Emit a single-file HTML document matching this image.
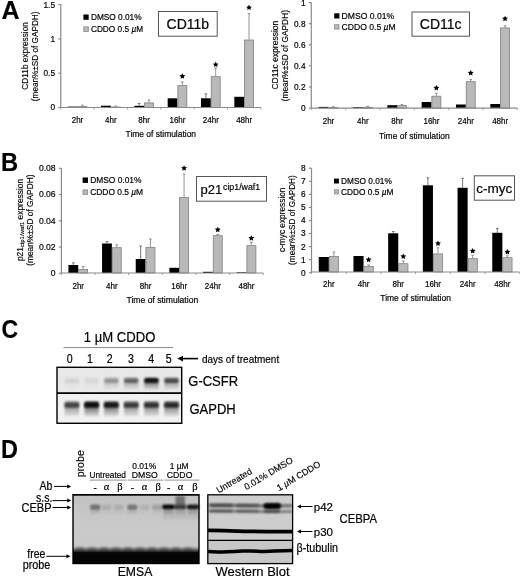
<!DOCTYPE html><html><head><meta charset="utf-8"><style>html,body{margin:0;padding:0;background:#fff;}svg{display:block;filter:grayscale(1);}</style></head><body>
<svg width="520" height="576" viewBox="0 0 520 576">
<defs>
<filter id="b1" filterUnits="userSpaceOnUse" x="0" y="0" width="520" height="576"><feGaussianBlur stdDeviation="1.2"/></filter>
<filter id="b2" filterUnits="userSpaceOnUse" x="0" y="0" width="520" height="576"><feGaussianBlur stdDeviation="0.8"/></filter>
<filter id="b4" filterUnits="userSpaceOnUse" x="0" y="0" width="520" height="576"><feGaussianBlur stdDeviation="0.5"/></filter>
<filter id="b3" filterUnits="userSpaceOnUse" x="0" y="0" width="520" height="576"><feGaussianBlur stdDeviation="1.8"/></filter>
<linearGradient id="freeg" x1="0" y1="0" x2="0" y2="1">
<stop offset="0" stop-color="#c8c8c8" stop-opacity="0"/><stop offset="0.45" stop-color="#8a8a8a"/><stop offset="0.75" stop-color="#3a3a3a"/><stop offset="1" stop-color="#060606"/></linearGradient>
<linearGradient id="smear" x1="0" y1="0" x2="0" y2="1">
<stop offset="0" stop-color="#000" stop-opacity="0.7"/><stop offset="0.5" stop-color="#000" stop-opacity="0.4"/><stop offset="1" stop-color="#000" stop-opacity="0.08"/></linearGradient>
<linearGradient id="emsabg" x1="0" y1="0" x2="0" y2="1">
<stop offset="0" stop-color="#c2c2c2"/><stop offset="0.5" stop-color="#cacaca"/><stop offset="0.75" stop-color="#c8c8c8"/><stop offset="1" stop-color="#c0c0c0"/></linearGradient>
</defs>
<rect width="520" height="576" fill="#fff"/>
<text transform="translate(1.5,19) scale(1,1)" font-size="25" text-anchor="start" font-weight="bold" fill="#000" stroke="#000" stroke-width="0.18" font-family='"Liberation Sans", sans-serif' >A</text>
<text transform="translate(1.1,171.3) scale(0.95,1)" font-size="25" text-anchor="start" font-weight="bold" fill="#000" stroke="#000" stroke-width="0.18" font-family='"Liberation Sans", sans-serif' >B</text>
<text transform="translate(1.4,338.4) scale(0.92,1.06)" font-size="25" text-anchor="start" font-weight="bold" fill="#000" stroke="#000" stroke-width="0.18" font-family='"Liberation Sans", sans-serif' >C</text>
<text transform="translate(0.9,458.4) scale(0.94,1.0)" font-size="25" text-anchor="start" font-weight="bold" fill="#000" stroke="#000" stroke-width="0.18" font-family='"Liberation Sans", sans-serif' >D</text>
<line x1="60.8" y1="4.6" x2="60.8" y2="107.5" stroke="#8a8a8a" stroke-width="1.2"/>
<line x1="58.3" y1="4.6" x2="60.8" y2="4.6" stroke="#8a8a8a" stroke-width="1.2"/>
<text transform="translate(55.0,7.5) scale(1,1.13)" font-size="8.3" text-anchor="end" font-weight="normal" fill="#000" stroke="#000" stroke-width="0.18" font-family='"Liberation Sans", sans-serif' >1.5</text>
<line x1="58.3" y1="38.9" x2="60.8" y2="38.9" stroke="#8a8a8a" stroke-width="1.2"/>
<text transform="translate(55.0,41.8) scale(1,1.13)" font-size="8.3" text-anchor="end" font-weight="normal" fill="#000" stroke="#000" stroke-width="0.18" font-family='"Liberation Sans", sans-serif' >1</text>
<line x1="58.3" y1="73.2" x2="60.8" y2="73.2" stroke="#8a8a8a" stroke-width="1.2"/>
<text transform="translate(55.0,76.10000000000001) scale(1,1.13)" font-size="8.3" text-anchor="end" font-weight="normal" fill="#000" stroke="#000" stroke-width="0.18" font-family='"Liberation Sans", sans-serif' >0.5</text>
<line x1="58.3" y1="107.5" x2="60.8" y2="107.5" stroke="#8a8a8a" stroke-width="1.2"/>
<text transform="translate(55.0,110.4) scale(1,1.13)" font-size="8.3" text-anchor="end" font-weight="normal" fill="#000" stroke="#000" stroke-width="0.18" font-family='"Liberation Sans", sans-serif' >0</text>
<rect x="67.66666666666667" y="106.6" width="9.8" height="0.9000000000000057" fill="#000"/>
<line x1="82.36666666666667" y1="105.2" x2="82.36666666666667" y2="106.2" stroke="#777" stroke-width="0.8"/>
<line x1="81.06666666666668" y1="105.2" x2="83.66666666666667" y2="105.2" stroke="#777" stroke-width="0.8"/>
<rect x="77.86666666666667" y="106.60000000000001" width="9.0" height="0.8999999999999971" fill="#b9b9b9" stroke="#808080" stroke-width="0.8"/>
<text transform="translate(77.46666666666667,122.7) scale(1,1.13)" font-size="8" text-anchor="middle" font-weight="normal" fill="#000" stroke="#000" stroke-width="0.18" font-family='"Liberation Sans", sans-serif' >2hr</text>
<rect x="101.0" y="105.7" width="9.8" height="1.7999999999999972" fill="#000"/>
<line x1="115.7" y1="106.0" x2="115.7" y2="106.6" stroke="#777" stroke-width="0.8"/>
<line x1="114.4" y1="106.0" x2="117.0" y2="106.0" stroke="#777" stroke-width="0.8"/>
<rect x="111.2" y="107.0" width="9.0" height="0.5000000000000057" fill="#b9b9b9" stroke="#808080" stroke-width="0.8"/>
<text transform="translate(110.8,122.7) scale(1,1.13)" font-size="8" text-anchor="middle" font-weight="normal" fill="#000" stroke="#000" stroke-width="0.18" font-family='"Liberation Sans", sans-serif' >4hr</text>
<line x1="139.23333333333332" y1="103.5" x2="139.23333333333332" y2="105.8" stroke="#555" stroke-width="0.8"/>
<line x1="137.9333333333333" y1="103.5" x2="140.53333333333333" y2="103.5" stroke="#555" stroke-width="0.8"/>
<rect x="134.33333333333331" y="105.8" width="9.8" height="1.7000000000000028" fill="#000"/>
<line x1="149.03333333333333" y1="100.0" x2="149.03333333333333" y2="102.5" stroke="#777" stroke-width="0.8"/>
<line x1="147.73333333333332" y1="100.0" x2="150.33333333333334" y2="100.0" stroke="#777" stroke-width="0.8"/>
<rect x="144.53333333333333" y="102.9" width="9.0" height="4.6" fill="#b9b9b9" stroke="#808080" stroke-width="0.8"/>
<text transform="translate(144.13333333333333,122.7) scale(1,1.13)" font-size="8" text-anchor="middle" font-weight="normal" fill="#000" stroke="#000" stroke-width="0.18" font-family='"Liberation Sans", sans-serif' >8hr</text>
<rect x="167.66666666666666" y="98.3" width="9.8" height="9.200000000000003" fill="#000"/>
<line x1="182.36666666666667" y1="82.0" x2="182.36666666666667" y2="85.0" stroke="#777" stroke-width="0.8"/>
<line x1="181.06666666666666" y1="82.0" x2="183.66666666666669" y2="82.0" stroke="#777" stroke-width="0.8"/>
<rect x="177.86666666666667" y="85.4" width="9.0" height="22.1" fill="#b9b9b9" stroke="#808080" stroke-width="0.8"/>
<polygon points="182.37,73.20 183.24,75.10 185.31,75.34 183.78,76.76 184.19,78.81 182.37,77.79 180.54,78.81 180.95,76.76 179.42,75.34 181.49,75.10" fill="#000"/>
<text transform="translate(177.46666666666667,122.7) scale(1,1.13)" font-size="8" text-anchor="middle" font-weight="normal" fill="#000" stroke="#000" stroke-width="0.18" font-family='"Liberation Sans", sans-serif' >16hr</text>
<line x1="205.9" y1="93.8" x2="205.9" y2="98.3" stroke="#555" stroke-width="0.8"/>
<line x1="204.6" y1="93.8" x2="207.20000000000002" y2="93.8" stroke="#555" stroke-width="0.8"/>
<rect x="201.0" y="98.3" width="9.8" height="9.200000000000003" fill="#000"/>
<line x1="215.70000000000002" y1="68.0" x2="215.70000000000002" y2="76.3" stroke="#777" stroke-width="0.8"/>
<line x1="214.4" y1="68.0" x2="217.00000000000003" y2="68.0" stroke="#777" stroke-width="0.8"/>
<rect x="211.20000000000002" y="76.7" width="9.0" height="30.800000000000004" fill="#b9b9b9" stroke="#808080" stroke-width="0.8"/>
<polygon points="215.70,61.50 216.57,63.40 218.65,63.64 217.12,65.06 217.52,67.11 215.70,66.09 213.88,67.11 214.28,65.06 212.75,63.64 214.83,63.40" fill="#000"/>
<text transform="translate(210.8,122.7) scale(1,1.13)" font-size="8" text-anchor="middle" font-weight="normal" fill="#000" stroke="#000" stroke-width="0.18" font-family='"Liberation Sans", sans-serif' >24hr</text>
<rect x="234.33333333333331" y="96.8" width="9.8" height="10.700000000000003" fill="#000"/>
<line x1="249.03333333333333" y1="13.7" x2="249.03333333333333" y2="39.6" stroke="#777" stroke-width="0.8"/>
<line x1="247.73333333333332" y1="13.7" x2="250.33333333333334" y2="13.7" stroke="#777" stroke-width="0.8"/>
<rect x="244.53333333333333" y="40.0" width="9.0" height="67.5" fill="#b9b9b9" stroke="#808080" stroke-width="0.8"/>
<polygon points="249.03,4.50 249.91,6.40 251.98,6.64 250.45,8.06 250.86,10.11 249.03,9.09 247.21,10.11 247.62,8.06 246.09,6.64 248.16,6.40" fill="#000"/>
<text transform="translate(244.13333333333333,122.7) scale(1,1.13)" font-size="8" text-anchor="middle" font-weight="normal" fill="#000" stroke="#000" stroke-width="0.18" font-family='"Liberation Sans", sans-serif' >48hr</text>
<line x1="60.8" y1="107.5" x2="260.8" y2="107.5" stroke="#8a8a8a" stroke-width="1.2"/>
<line x1="60.8" y1="107.5" x2="60.8" y2="109.5" stroke="#8a8a8a" stroke-width="0.8"/>
<line x1="94.13333333333333" y1="107.5" x2="94.13333333333333" y2="109.5" stroke="#8a8a8a" stroke-width="0.8"/>
<line x1="127.46666666666667" y1="107.5" x2="127.46666666666667" y2="109.5" stroke="#8a8a8a" stroke-width="0.8"/>
<line x1="160.8" y1="107.5" x2="160.8" y2="109.5" stroke="#8a8a8a" stroke-width="0.8"/>
<line x1="194.13333333333333" y1="107.5" x2="194.13333333333333" y2="109.5" stroke="#8a8a8a" stroke-width="0.8"/>
<line x1="227.4666666666667" y1="107.5" x2="227.4666666666667" y2="109.5" stroke="#8a8a8a" stroke-width="0.8"/>
<line x1="260.8" y1="107.5" x2="260.8" y2="109.5" stroke="#8a8a8a" stroke-width="0.8"/>
<text transform="translate(160.8,136.5) scale(1,1.13)" font-size="8.45" text-anchor="middle" font-weight="normal" fill="#000" stroke="#000" stroke-width="0.18" font-family='"Liberation Sans", sans-serif' >Time of stimulation</text>
<text transform="translate(28.0,55.9) rotate(-90)" font-size="8.3" text-anchor="middle" stroke="#000" stroke-width="0.15" font-family='"Liberation Sans", sans-serif'>CD11b expression</text>
<text transform="translate(37.8,56.35) rotate(-90)" font-size="8.2" text-anchor="middle" stroke="#000" stroke-width="0.15" font-family='"Liberation Sans", sans-serif'>(mean%±SD of GAPDH)</text>
<rect x="83.4" y="14.5" width="5.3" height="5.3" fill="#000"/>
<rect x="83.80000000000001" y="26.9" width="4.5" height="4.5" fill="#b9b9b9" stroke="#888" stroke-width="0.8"/>
<text transform="translate(90.9,20.049999999999997) scale(1,1.13)" font-size="8.3" text-anchor="start" font-weight="normal" fill="#000" stroke="#000" stroke-width="0.18" font-family='"Liberation Sans", sans-serif' >DMSO 0.01%</text>
<text transform="translate(90.9,32.05) scale(1,1.13)" font-size="8.3" text-anchor="start" font-weight="normal" fill="#000" stroke="#000" stroke-width="0.18" font-family='"Liberation Sans", sans-serif' >CDDO 0.5 <tspan font-style="italic">µ</tspan>M</text>
<rect x="158.5" y="11.5" width="58.7" height="24.7" fill="#fff" stroke="#555" stroke-width="1"/>
<text transform="translate(187.8,28.8) scale(1,1)" font-size="14" text-anchor="middle" font-weight="normal" fill="#000" stroke="#000" stroke-width="0.18" font-family='"Liberation Sans", sans-serif' >CD11b</text>
<line x1="311.3" y1="2.6" x2="311.3" y2="108.1" stroke="#8a8a8a" stroke-width="1.2"/>
<line x1="308.8" y1="2.6" x2="311.3" y2="2.6" stroke="#8a8a8a" stroke-width="1.2"/>
<text transform="translate(305.5,5.5) scale(1,1.13)" font-size="8.3" text-anchor="end" font-weight="normal" fill="#000" stroke="#000" stroke-width="0.18" font-family='"Liberation Sans", sans-serif' >1</text>
<line x1="308.8" y1="23.7" x2="311.3" y2="23.7" stroke="#8a8a8a" stroke-width="1.2"/>
<text transform="translate(305.5,26.599999999999998) scale(1,1.13)" font-size="8.3" text-anchor="end" font-weight="normal" fill="#000" stroke="#000" stroke-width="0.18" font-family='"Liberation Sans", sans-serif' >0.8</text>
<line x1="308.8" y1="44.8" x2="311.3" y2="44.8" stroke="#8a8a8a" stroke-width="1.2"/>
<text transform="translate(305.5,47.699999999999996) scale(1,1.13)" font-size="8.3" text-anchor="end" font-weight="normal" fill="#000" stroke="#000" stroke-width="0.18" font-family='"Liberation Sans", sans-serif' >0.6</text>
<line x1="308.8" y1="65.9" x2="311.3" y2="65.9" stroke="#8a8a8a" stroke-width="1.2"/>
<text transform="translate(305.5,68.80000000000001) scale(1,1.13)" font-size="8.3" text-anchor="end" font-weight="normal" fill="#000" stroke="#000" stroke-width="0.18" font-family='"Liberation Sans", sans-serif' >0.4</text>
<line x1="308.8" y1="87.0" x2="311.3" y2="87.0" stroke="#8a8a8a" stroke-width="1.2"/>
<text transform="translate(305.5,89.9) scale(1,1.13)" font-size="8.3" text-anchor="end" font-weight="normal" fill="#000" stroke="#000" stroke-width="0.18" font-family='"Liberation Sans", sans-serif' >0.2</text>
<line x1="308.8" y1="108.1" x2="311.3" y2="108.1" stroke="#8a8a8a" stroke-width="1.2"/>
<text transform="translate(305.5,111.0) scale(1,1.13)" font-size="8.3" text-anchor="end" font-weight="normal" fill="#000" stroke="#000" stroke-width="0.18" font-family='"Liberation Sans", sans-serif' >0</text>
<rect x="318.6666666666667" y="106.9" width="9.8" height="1.1999999999999886" fill="#000"/>
<line x1="333.3666666666667" y1="106.7" x2="333.3666666666667" y2="107.2" stroke="#777" stroke-width="0.8"/>
<line x1="332.06666666666666" y1="106.7" x2="334.6666666666667" y2="106.7" stroke="#777" stroke-width="0.8"/>
<rect x="328.8666666666667" y="107.60000000000001" width="9.0" height="0.49999999999999145" fill="#b9b9b9" stroke="#808080" stroke-width="0.8"/>
<text transform="translate(328.4666666666667,124.4) scale(1,1.13)" font-size="8" text-anchor="middle" font-weight="normal" fill="#000" stroke="#000" stroke-width="0.18" font-family='"Liberation Sans", sans-serif' >2hr</text>
<rect x="353.0" y="107.2" width="9.8" height="0.8999999999999915" fill="#000"/>
<line x1="367.7" y1="106.3" x2="367.7" y2="106.9" stroke="#777" stroke-width="0.8"/>
<line x1="366.4" y1="106.3" x2="369.0" y2="106.3" stroke="#777" stroke-width="0.8"/>
<rect x="363.2" y="107.30000000000001" width="9.0" height="0.7999999999999886" fill="#b9b9b9" stroke="#808080" stroke-width="0.8"/>
<text transform="translate(362.8,124.4) scale(1,1.13)" font-size="8" text-anchor="middle" font-weight="normal" fill="#000" stroke="#000" stroke-width="0.18" font-family='"Liberation Sans", sans-serif' >4hr</text>
<rect x="387.3333333333333" y="105.2" width="9.8" height="2.8999999999999915" fill="#000"/>
<line x1="402.0333333333333" y1="104.6" x2="402.0333333333333" y2="105.2" stroke="#777" stroke-width="0.8"/>
<line x1="400.7333333333333" y1="104.6" x2="403.3333333333333" y2="104.6" stroke="#777" stroke-width="0.8"/>
<rect x="397.5333333333333" y="105.60000000000001" width="9.0" height="2.4999999999999916" fill="#b9b9b9" stroke="#808080" stroke-width="0.8"/>
<text transform="translate(397.1333333333333,124.4) scale(1,1.13)" font-size="8" text-anchor="middle" font-weight="normal" fill="#000" stroke="#000" stroke-width="0.18" font-family='"Liberation Sans", sans-serif' >8hr</text>
<rect x="421.66666666666663" y="102.0" width="9.8" height="6.099999999999994" fill="#000"/>
<line x1="436.3666666666666" y1="93.3" x2="436.3666666666666" y2="95.8" stroke="#777" stroke-width="0.8"/>
<line x1="435.0666666666666" y1="93.3" x2="437.66666666666663" y2="93.3" stroke="#777" stroke-width="0.8"/>
<rect x="431.8666666666666" y="96.2" width="9.0" height="11.899999999999997" fill="#b9b9b9" stroke="#808080" stroke-width="0.8"/>
<polygon points="436.37,84.90 437.24,86.80 439.31,87.04 437.78,88.46 438.19,90.51 436.37,89.49 434.54,90.51 434.95,88.46 433.42,87.04 435.49,86.80" fill="#000"/>
<text transform="translate(431.46666666666664,124.4) scale(1,1.13)" font-size="8" text-anchor="middle" font-weight="normal" fill="#000" stroke="#000" stroke-width="0.18" font-family='"Liberation Sans", sans-serif' >16hr</text>
<rect x="455.99999999999994" y="104.5" width="9.8" height="3.5999999999999943" fill="#000"/>
<line x1="470.69999999999993" y1="79.5" x2="470.69999999999993" y2="81.3" stroke="#777" stroke-width="0.8"/>
<line x1="469.3999999999999" y1="79.5" x2="471.99999999999994" y2="79.5" stroke="#777" stroke-width="0.8"/>
<rect x="466.19999999999993" y="81.7" width="9.0" height="26.4" fill="#b9b9b9" stroke="#808080" stroke-width="0.8"/>
<polygon points="470.70,69.90 471.57,71.80 473.65,72.04 472.12,73.46 472.52,75.51 470.70,74.49 468.88,75.51 469.28,73.46 467.75,72.04 469.83,71.80" fill="#000"/>
<text transform="translate(465.79999999999995,124.4) scale(1,1.13)" font-size="8" text-anchor="middle" font-weight="normal" fill="#000" stroke="#000" stroke-width="0.18" font-family='"Liberation Sans", sans-serif' >24hr</text>
<rect x="490.33333333333326" y="104.0" width="9.8" height="4.099999999999994" fill="#000"/>
<line x1="505.03333333333325" y1="25.8" x2="505.03333333333325" y2="27.5" stroke="#777" stroke-width="0.8"/>
<line x1="503.73333333333323" y1="25.8" x2="506.33333333333326" y2="25.8" stroke="#777" stroke-width="0.8"/>
<rect x="500.53333333333325" y="27.9" width="9.0" height="80.19999999999999" fill="#b9b9b9" stroke="#808080" stroke-width="0.8"/>
<polygon points="505.03,15.70 505.91,17.60 507.98,17.84 506.45,19.26 506.86,21.31 505.03,20.29 503.21,21.31 503.62,19.26 502.09,17.84 504.16,17.60" fill="#000"/>
<text transform="translate(500.13333333333327,124.4) scale(1,1.13)" font-size="8" text-anchor="middle" font-weight="normal" fill="#000" stroke="#000" stroke-width="0.18" font-family='"Liberation Sans", sans-serif' >48hr</text>
<line x1="311.3" y1="108.1" x2="517.3" y2="108.1" stroke="#8a8a8a" stroke-width="1.2"/>
<line x1="311.3" y1="108.1" x2="311.3" y2="110.1" stroke="#8a8a8a" stroke-width="0.8"/>
<line x1="345.6333333333333" y1="108.1" x2="345.6333333333333" y2="110.1" stroke="#8a8a8a" stroke-width="0.8"/>
<line x1="379.96666666666664" y1="108.1" x2="379.96666666666664" y2="110.1" stroke="#8a8a8a" stroke-width="0.8"/>
<line x1="414.29999999999995" y1="108.1" x2="414.29999999999995" y2="110.1" stroke="#8a8a8a" stroke-width="0.8"/>
<line x1="448.6333333333333" y1="108.1" x2="448.6333333333333" y2="110.1" stroke="#8a8a8a" stroke-width="0.8"/>
<line x1="482.9666666666666" y1="108.1" x2="482.9666666666666" y2="110.1" stroke="#8a8a8a" stroke-width="0.8"/>
<line x1="517.3" y1="108.1" x2="517.3" y2="110.1" stroke="#8a8a8a" stroke-width="0.8"/>
<text transform="translate(414.29999999999995,138.6) scale(1,1.13)" font-size="8.5" text-anchor="middle" font-weight="normal" fill="#000" stroke="#000" stroke-width="0.18" font-family='"Liberation Sans", sans-serif' >Time of stimulation</text>
<text transform="translate(277.6,55.15) rotate(-90)" font-size="8.5" text-anchor="middle" stroke="#000" stroke-width="0.15" font-family='"Liberation Sans", sans-serif'>CD11c expression</text>
<text transform="translate(287.8,55.7) rotate(-90)" font-size="8.35" text-anchor="middle" stroke="#000" stroke-width="0.15" font-family='"Liberation Sans", sans-serif'>(mean%±SD of GAPDH)</text>
<rect x="334.2" y="13.3" width="5.2" height="5.2" fill="#000"/>
<rect x="334.59999999999997" y="24.7" width="4.4" height="4.4" fill="#b9b9b9" stroke="#888" stroke-width="0.8"/>
<text transform="translate(341.59999999999997,18.8) scale(1,1.13)" font-size="8.6" text-anchor="start" font-weight="normal" fill="#000" stroke="#000" stroke-width="0.18" font-family='"Liberation Sans", sans-serif' >DMSO 0.01%</text>
<text transform="translate(341.59999999999997,29.8) scale(1,1.13)" font-size="8.6" text-anchor="start" font-weight="normal" fill="#000" stroke="#000" stroke-width="0.18" font-family='"Liberation Sans", sans-serif' >CDDO 0.5 <tspan font-style="italic">µ</tspan>M</text>
<rect x="412" y="12" width="57.5" height="24.2" fill="#fff" stroke="#555" stroke-width="1"/>
<text transform="translate(440.7,29) scale(1,1)" font-size="14" text-anchor="middle" font-weight="normal" fill="#000" stroke="#000" stroke-width="0.18" font-family='"Liberation Sans", sans-serif' >CD11c</text>
<line x1="61.4" y1="168.3" x2="61.4" y2="273.0" stroke="#8a8a8a" stroke-width="1.2"/>
<line x1="58.9" y1="168.3" x2="61.4" y2="168.3" stroke="#8a8a8a" stroke-width="1.2"/>
<text transform="translate(55.6,171.20000000000002) scale(1,1.13)" font-size="8.6" text-anchor="end" font-weight="normal" fill="#000" stroke="#000" stroke-width="0.18" font-family='"Liberation Sans", sans-serif' >0.08</text>
<line x1="58.9" y1="194.5" x2="61.4" y2="194.5" stroke="#8a8a8a" stroke-width="1.2"/>
<text transform="translate(55.6,197.4) scale(1,1.13)" font-size="8.6" text-anchor="end" font-weight="normal" fill="#000" stroke="#000" stroke-width="0.18" font-family='"Liberation Sans", sans-serif' >0.06</text>
<line x1="58.9" y1="220.8" x2="61.4" y2="220.8" stroke="#8a8a8a" stroke-width="1.2"/>
<text transform="translate(55.6,223.70000000000002) scale(1,1.13)" font-size="8.6" text-anchor="end" font-weight="normal" fill="#000" stroke="#000" stroke-width="0.18" font-family='"Liberation Sans", sans-serif' >0.04</text>
<line x1="58.9" y1="247.0" x2="61.4" y2="247.0" stroke="#8a8a8a" stroke-width="1.2"/>
<text transform="translate(55.6,249.9) scale(1,1.13)" font-size="8.6" text-anchor="end" font-weight="normal" fill="#000" stroke="#000" stroke-width="0.18" font-family='"Liberation Sans", sans-serif' >0.02</text>
<line x1="58.9" y1="273.3" x2="61.4" y2="273.3" stroke="#8a8a8a" stroke-width="1.2"/>
<text transform="translate(55.6,276.2) scale(1,1.13)" font-size="8.6" text-anchor="end" font-weight="normal" fill="#000" stroke="#000" stroke-width="0.18" font-family='"Liberation Sans", sans-serif' >0</text>
<line x1="73.32499999999999" y1="262.8" x2="73.32499999999999" y2="265.0" stroke="#555" stroke-width="0.8"/>
<line x1="72.02499999999999" y1="262.8" x2="74.62499999999999" y2="262.8" stroke="#555" stroke-width="0.8"/>
<rect x="68.425" y="265.0" width="9.8" height="8.0" fill="#000"/>
<line x1="83.125" y1="266.5" x2="83.125" y2="269.0" stroke="#777" stroke-width="0.8"/>
<line x1="81.825" y1="266.5" x2="84.425" y2="266.5" stroke="#777" stroke-width="0.8"/>
<rect x="78.625" y="269.4" width="9.0" height="3.6" fill="#b9b9b9" stroke="#808080" stroke-width="0.8"/>
<text transform="translate(78.225,288.6) scale(1,1.13)" font-size="8" text-anchor="middle" font-weight="normal" fill="#000" stroke="#000" stroke-width="0.18" font-family='"Liberation Sans", sans-serif' >2hr</text>
<line x1="106.975" y1="241.5" x2="106.975" y2="243.5" stroke="#555" stroke-width="0.8"/>
<line x1="105.675" y1="241.5" x2="108.27499999999999" y2="241.5" stroke="#555" stroke-width="0.8"/>
<rect x="102.075" y="243.5" width="9.8" height="29.5" fill="#000"/>
<line x1="116.775" y1="244.8" x2="116.775" y2="247.3" stroke="#777" stroke-width="0.8"/>
<line x1="115.47500000000001" y1="244.8" x2="118.075" y2="244.8" stroke="#777" stroke-width="0.8"/>
<rect x="112.275" y="247.70000000000002" width="9.0" height="25.29999999999999" fill="#b9b9b9" stroke="#808080" stroke-width="0.8"/>
<text transform="translate(111.875,288.6) scale(1,1.13)" font-size="8" text-anchor="middle" font-weight="normal" fill="#000" stroke="#000" stroke-width="0.18" font-family='"Liberation Sans", sans-serif' >4hr</text>
<line x1="140.625" y1="246.0" x2="140.625" y2="259.0" stroke="#555" stroke-width="0.8"/>
<line x1="139.325" y1="246.0" x2="141.925" y2="246.0" stroke="#555" stroke-width="0.8"/>
<rect x="135.725" y="259.0" width="9.8" height="14.0" fill="#000"/>
<line x1="150.425" y1="239.0" x2="150.425" y2="247.0" stroke="#777" stroke-width="0.8"/>
<line x1="149.125" y1="239.0" x2="151.72500000000002" y2="239.0" stroke="#777" stroke-width="0.8"/>
<rect x="145.925" y="247.4" width="9.0" height="25.6" fill="#b9b9b9" stroke="#808080" stroke-width="0.8"/>
<text transform="translate(145.525,288.6) scale(1,1.13)" font-size="8" text-anchor="middle" font-weight="normal" fill="#000" stroke="#000" stroke-width="0.18" font-family='"Liberation Sans", sans-serif' >8hr</text>
<rect x="169.37499999999997" y="267.8" width="9.8" height="5.199999999999989" fill="#000"/>
<line x1="184.075" y1="174.0" x2="184.075" y2="197.0" stroke="#777" stroke-width="0.8"/>
<line x1="182.77499999999998" y1="174.0" x2="185.375" y2="174.0" stroke="#777" stroke-width="0.8"/>
<rect x="179.575" y="197.4" width="9.0" height="75.6" fill="#b9b9b9" stroke="#808080" stroke-width="0.8"/>
<polygon points="184.07,165.20 184.95,167.10 187.02,167.34 185.49,168.76 185.90,170.81 184.07,169.79 182.25,170.81 182.66,168.76 181.13,167.34 183.20,167.10" fill="#000"/>
<text transform="translate(179.17499999999998,288.6) scale(1,1.13)" font-size="8" text-anchor="middle" font-weight="normal" fill="#000" stroke="#000" stroke-width="0.18" font-family='"Liberation Sans", sans-serif' >16hr</text>
<rect x="203.02499999999998" y="271.8" width="9.8" height="1.1999999999999886" fill="#000"/>
<line x1="217.725" y1="234.5" x2="217.725" y2="235.3" stroke="#777" stroke-width="0.8"/>
<line x1="216.42499999999998" y1="234.5" x2="219.025" y2="234.5" stroke="#777" stroke-width="0.8"/>
<rect x="213.225" y="235.70000000000002" width="9.0" height="37.29999999999999" fill="#b9b9b9" stroke="#808080" stroke-width="0.8"/>
<polygon points="217.72,226.70 218.60,228.60 220.67,228.84 219.14,230.26 219.55,232.31 217.72,231.29 215.90,232.31 216.31,230.26 214.78,228.84 216.85,228.60" fill="#000"/>
<text transform="translate(212.825,288.6) scale(1,1.13)" font-size="8" text-anchor="middle" font-weight="normal" fill="#000" stroke="#000" stroke-width="0.18" font-family='"Liberation Sans", sans-serif' >24hr</text>
<rect x="236.67499999999998" y="272.3" width="9.8" height="0.6999999999999886" fill="#000"/>
<line x1="251.375" y1="242.3" x2="251.375" y2="245.3" stroke="#777" stroke-width="0.8"/>
<line x1="250.075" y1="242.3" x2="252.675" y2="242.3" stroke="#777" stroke-width="0.8"/>
<rect x="246.875" y="245.70000000000002" width="9.0" height="27.29999999999999" fill="#b9b9b9" stroke="#808080" stroke-width="0.8"/>
<polygon points="251.38,235.20 252.25,237.10 254.32,237.34 252.79,238.76 253.20,240.81 251.38,239.79 249.55,240.81 249.96,238.76 248.43,237.34 250.50,237.10" fill="#000"/>
<text transform="translate(246.475,288.6) scale(1,1.13)" font-size="8" text-anchor="middle" font-weight="normal" fill="#000" stroke="#000" stroke-width="0.18" font-family='"Liberation Sans", sans-serif' >48hr</text>
<line x1="61.4" y1="273.0" x2="263.3" y2="273.0" stroke="#8a8a8a" stroke-width="1.2"/>
<line x1="61.4" y1="273.0" x2="61.4" y2="275.0" stroke="#8a8a8a" stroke-width="0.8"/>
<line x1="95.05" y1="273.0" x2="95.05" y2="275.0" stroke="#8a8a8a" stroke-width="0.8"/>
<line x1="128.7" y1="273.0" x2="128.7" y2="275.0" stroke="#8a8a8a" stroke-width="0.8"/>
<line x1="162.35" y1="273.0" x2="162.35" y2="275.0" stroke="#8a8a8a" stroke-width="0.8"/>
<line x1="196.0" y1="273.0" x2="196.0" y2="275.0" stroke="#8a8a8a" stroke-width="0.8"/>
<line x1="229.65" y1="273.0" x2="229.65" y2="275.0" stroke="#8a8a8a" stroke-width="0.8"/>
<line x1="263.29999999999995" y1="273.0" x2="263.29999999999995" y2="275.0" stroke="#8a8a8a" stroke-width="0.8"/>
<text transform="translate(162.35,303.0) scale(1,1.13)" font-size="8.6" text-anchor="middle" font-weight="normal" fill="#000" stroke="#000" stroke-width="0.18" font-family='"Liberation Sans", sans-serif' >Time of stimulation</text>
<text transform="translate(23.3,220.0) rotate(-90)" font-size="8.4" text-anchor="middle" stroke="#000" stroke-width="0.15" font-family='"Liberation Sans", sans-serif'>p21<tspan font-size="6" dy="0.8">cip1/waf1</tspan><tspan dy="-0.8"> expression</tspan></text>
<text transform="translate(33.4,220.15) rotate(-90)" font-size="8.35" text-anchor="middle" stroke="#000" stroke-width="0.15" font-family='"Liberation Sans", sans-serif'>(mean%±SD of GAPDH)</text>
<rect x="82.6" y="177.5" width="5.4" height="5.4" fill="#000"/>
<rect x="83.0" y="189.9" width="4.6000000000000005" height="4.6000000000000005" fill="#b9b9b9" stroke="#888" stroke-width="0.8"/>
<text transform="translate(90.2,183.1) scale(1,1.13)" font-size="8.4" text-anchor="start" font-weight="normal" fill="#000" stroke="#000" stroke-width="0.18" font-family='"Liberation Sans", sans-serif' >DMSO 0.01%</text>
<text transform="translate(90.2,195.1) scale(1,1.13)" font-size="8.4" text-anchor="start" font-weight="normal" fill="#000" stroke="#000" stroke-width="0.18" font-family='"Liberation Sans", sans-serif' >CDDO 0.5 <tspan font-style="italic">µ</tspan>M</text>
<rect x="196.5" y="176.5" width="70" height="24.7" fill="#fff" stroke="#555" stroke-width="1"/>
<text transform="translate(200.5,194.2) scale(1,1)" font-size="13" text-anchor="start" font-weight="normal" fill="#000" stroke="#000" stroke-width="0.18" font-family='"Liberation Sans", sans-serif' >p21</text>
<text transform="translate(223,190) scale(1,1)" font-size="8.8" text-anchor="start" font-weight="normal" fill="#000" stroke="#000" stroke-width="0.18" font-family='"Liberation Sans", sans-serif' >cip1/waf1</text>
<line x1="311.5" y1="168.2" x2="311.5" y2="272.0" stroke="#8a8a8a" stroke-width="1.2"/>
<line x1="309.0" y1="168.2" x2="311.5" y2="168.2" stroke="#8a8a8a" stroke-width="1.2"/>
<text transform="translate(305.7,171.1) scale(1,1.13)" font-size="8.3" text-anchor="end" font-weight="normal" fill="#000" stroke="#000" stroke-width="0.18" font-family='"Liberation Sans", sans-serif' >8</text>
<line x1="309.0" y1="181.3" x2="311.5" y2="181.3" stroke="#8a8a8a" stroke-width="1.2"/>
<text transform="translate(305.7,184.20000000000002) scale(1,1.13)" font-size="8.3" text-anchor="end" font-weight="normal" fill="#000" stroke="#000" stroke-width="0.18" font-family='"Liberation Sans", sans-serif' >7</text>
<line x1="309.0" y1="194.3" x2="311.5" y2="194.3" stroke="#8a8a8a" stroke-width="1.2"/>
<text transform="translate(305.7,197.20000000000002) scale(1,1.13)" font-size="8.3" text-anchor="end" font-weight="normal" fill="#000" stroke="#000" stroke-width="0.18" font-family='"Liberation Sans", sans-serif' >6</text>
<line x1="309.0" y1="207.4" x2="311.5" y2="207.4" stroke="#8a8a8a" stroke-width="1.2"/>
<text transform="translate(305.7,210.3) scale(1,1.13)" font-size="8.3" text-anchor="end" font-weight="normal" fill="#000" stroke="#000" stroke-width="0.18" font-family='"Liberation Sans", sans-serif' >5</text>
<line x1="309.0" y1="220.5" x2="311.5" y2="220.5" stroke="#8a8a8a" stroke-width="1.2"/>
<text transform="translate(305.7,223.4) scale(1,1.13)" font-size="8.3" text-anchor="end" font-weight="normal" fill="#000" stroke="#000" stroke-width="0.18" font-family='"Liberation Sans", sans-serif' >4</text>
<line x1="309.0" y1="233.5" x2="311.5" y2="233.5" stroke="#8a8a8a" stroke-width="1.2"/>
<text transform="translate(305.7,236.4) scale(1,1.13)" font-size="8.3" text-anchor="end" font-weight="normal" fill="#000" stroke="#000" stroke-width="0.18" font-family='"Liberation Sans", sans-serif' >3</text>
<line x1="309.0" y1="246.6" x2="311.5" y2="246.6" stroke="#8a8a8a" stroke-width="1.2"/>
<text transform="translate(305.7,249.5) scale(1,1.13)" font-size="8.3" text-anchor="end" font-weight="normal" fill="#000" stroke="#000" stroke-width="0.18" font-family='"Liberation Sans", sans-serif' >2</text>
<line x1="309.0" y1="259.6" x2="311.5" y2="259.6" stroke="#8a8a8a" stroke-width="1.2"/>
<text transform="translate(305.7,262.5) scale(1,1.13)" font-size="8.3" text-anchor="end" font-weight="normal" fill="#000" stroke="#000" stroke-width="0.18" font-family='"Liberation Sans", sans-serif' >1</text>
<line x1="309.0" y1="272.7" x2="311.5" y2="272.7" stroke="#8a8a8a" stroke-width="1.2"/>
<text transform="translate(305.7,275.59999999999997) scale(1,1.13)" font-size="8.3" text-anchor="end" font-weight="normal" fill="#000" stroke="#000" stroke-width="0.18" font-family='"Liberation Sans", sans-serif' >0</text>
<rect x="318.75" y="257.0" width="10.1" height="15.0" fill="#000"/>
<line x1="333.90000000000003" y1="252.0" x2="333.90000000000003" y2="256.0" stroke="#777" stroke-width="0.8"/>
<line x1="332.6" y1="252.0" x2="335.20000000000005" y2="252.0" stroke="#777" stroke-width="0.8"/>
<rect x="329.25" y="256.4" width="9.299999999999999" height="15.6" fill="#b9b9b9" stroke="#808080" stroke-width="0.8"/>
<text transform="translate(328.85,286.5) scale(1,1.13)" font-size="8" text-anchor="middle" font-weight="normal" fill="#000" stroke="#000" stroke-width="0.18" font-family='"Liberation Sans", sans-serif' >2hr</text>
<rect x="353.45" y="256.0" width="10.1" height="16.0" fill="#000"/>
<line x1="368.6" y1="265.0" x2="368.6" y2="266.0" stroke="#777" stroke-width="0.8"/>
<line x1="367.3" y1="265.0" x2="369.90000000000003" y2="265.0" stroke="#777" stroke-width="0.8"/>
<rect x="363.95" y="266.4" width="9.299999999999999" height="5.6" fill="#b9b9b9" stroke="#808080" stroke-width="0.8"/>
<polygon points="368.60,256.70 369.47,258.60 371.55,258.84 370.02,260.26 370.42,262.31 368.60,261.29 366.78,262.31 367.18,260.26 365.65,258.84 367.73,258.60" fill="#000"/>
<text transform="translate(363.55,286.5) scale(1,1.13)" font-size="8" text-anchor="middle" font-weight="normal" fill="#000" stroke="#000" stroke-width="0.18" font-family='"Liberation Sans", sans-serif' >4hr</text>
<line x1="393.2" y1="231.5" x2="393.2" y2="233.3" stroke="#555" stroke-width="0.8"/>
<line x1="391.9" y1="231.5" x2="394.5" y2="231.5" stroke="#555" stroke-width="0.8"/>
<rect x="388.15" y="233.3" width="10.1" height="38.69999999999999" fill="#000"/>
<line x1="403.3" y1="261.0" x2="403.3" y2="263.3" stroke="#777" stroke-width="0.8"/>
<line x1="402.0" y1="261.0" x2="404.6" y2="261.0" stroke="#777" stroke-width="0.8"/>
<rect x="398.65" y="263.7" width="9.299999999999999" height="8.299999999999988" fill="#b9b9b9" stroke="#808080" stroke-width="0.8"/>
<polygon points="403.30,253.40 404.17,255.30 406.25,255.54 404.72,256.96 405.12,259.01 403.30,257.99 401.48,259.01 401.88,256.96 400.35,255.54 402.43,255.30" fill="#000"/>
<text transform="translate(398.25,286.5) scale(1,1.13)" font-size="8" text-anchor="middle" font-weight="normal" fill="#000" stroke="#000" stroke-width="0.18" font-family='"Liberation Sans", sans-serif' >8hr</text>
<line x1="427.90000000000003" y1="177.8" x2="427.90000000000003" y2="185.3" stroke="#555" stroke-width="0.8"/>
<line x1="426.6" y1="177.8" x2="429.20000000000005" y2="177.8" stroke="#555" stroke-width="0.8"/>
<rect x="422.85" y="185.3" width="10.1" height="86.69999999999999" fill="#000"/>
<line x1="438.00000000000006" y1="247.8" x2="438.00000000000006" y2="253.5" stroke="#777" stroke-width="0.8"/>
<line x1="436.70000000000005" y1="247.8" x2="439.30000000000007" y2="247.8" stroke="#777" stroke-width="0.8"/>
<rect x="433.35" y="253.9" width="9.299999999999999" height="18.1" fill="#b9b9b9" stroke="#808080" stroke-width="0.8"/>
<polygon points="438.00,240.40 438.87,242.30 440.95,242.54 439.42,243.96 439.82,246.01 438.00,244.99 436.18,246.01 436.58,243.96 435.05,242.54 437.13,242.30" fill="#000"/>
<text transform="translate(432.95000000000005,286.5) scale(1,1.13)" font-size="8" text-anchor="middle" font-weight="normal" fill="#000" stroke="#000" stroke-width="0.18" font-family='"Liberation Sans", sans-serif' >16hr</text>
<line x1="462.6" y1="178.3" x2="462.6" y2="187.8" stroke="#555" stroke-width="0.8"/>
<line x1="461.3" y1="178.3" x2="463.90000000000003" y2="178.3" stroke="#555" stroke-width="0.8"/>
<rect x="457.55" y="187.8" width="10.1" height="84.19999999999999" fill="#000"/>
<line x1="472.70000000000005" y1="255.3" x2="472.70000000000005" y2="258.3" stroke="#777" stroke-width="0.8"/>
<line x1="471.40000000000003" y1="255.3" x2="474.00000000000006" y2="255.3" stroke="#777" stroke-width="0.8"/>
<rect x="468.05" y="258.7" width="9.299999999999999" height="13.299999999999988" fill="#b9b9b9" stroke="#808080" stroke-width="0.8"/>
<polygon points="472.70,247.90 473.57,249.80 475.65,250.04 474.12,251.46 474.52,253.51 472.70,252.49 470.88,253.51 471.28,251.46 469.75,250.04 471.83,249.80" fill="#000"/>
<text transform="translate(467.65000000000003,286.5) scale(1,1.13)" font-size="8" text-anchor="middle" font-weight="normal" fill="#000" stroke="#000" stroke-width="0.18" font-family='"Liberation Sans", sans-serif' >24hr</text>
<line x1="497.3" y1="228.5" x2="497.3" y2="232.8" stroke="#555" stroke-width="0.8"/>
<line x1="496.0" y1="228.5" x2="498.6" y2="228.5" stroke="#555" stroke-width="0.8"/>
<rect x="492.25" y="232.8" width="10.1" height="39.19999999999999" fill="#000"/>
<line x1="507.40000000000003" y1="255.8" x2="507.40000000000003" y2="257.3" stroke="#777" stroke-width="0.8"/>
<line x1="506.1" y1="255.8" x2="508.70000000000005" y2="255.8" stroke="#777" stroke-width="0.8"/>
<rect x="502.75" y="257.7" width="9.299999999999999" height="14.299999999999988" fill="#b9b9b9" stroke="#808080" stroke-width="0.8"/>
<polygon points="507.40,248.90 508.27,250.80 510.35,251.04 508.82,252.46 509.22,254.51 507.40,253.49 505.58,254.51 505.98,252.46 504.45,251.04 506.53,250.80" fill="#000"/>
<text transform="translate(502.35,286.5) scale(1,1.13)" font-size="8" text-anchor="middle" font-weight="normal" fill="#000" stroke="#000" stroke-width="0.18" font-family='"Liberation Sans", sans-serif' >48hr</text>
<line x1="311.5" y1="272.0" x2="519.7" y2="272.0" stroke="#8a8a8a" stroke-width="1.2"/>
<line x1="311.5" y1="272.0" x2="311.5" y2="274.0" stroke="#8a8a8a" stroke-width="0.8"/>
<line x1="346.2" y1="272.0" x2="346.2" y2="274.0" stroke="#8a8a8a" stroke-width="0.8"/>
<line x1="380.90000000000003" y1="272.0" x2="380.90000000000003" y2="274.0" stroke="#8a8a8a" stroke-width="0.8"/>
<line x1="415.6" y1="272.0" x2="415.6" y2="274.0" stroke="#8a8a8a" stroke-width="0.8"/>
<line x1="450.30000000000007" y1="272.0" x2="450.30000000000007" y2="274.0" stroke="#8a8a8a" stroke-width="0.8"/>
<line x1="485.00000000000006" y1="272.0" x2="485.00000000000006" y2="274.0" stroke="#8a8a8a" stroke-width="0.8"/>
<line x1="519.7" y1="272.0" x2="519.7" y2="274.0" stroke="#8a8a8a" stroke-width="0.8"/>
<text transform="translate(415.6,301.0) scale(1,1.13)" font-size="8.45" text-anchor="middle" font-weight="normal" fill="#000" stroke="#000" stroke-width="0.18" font-family='"Liberation Sans", sans-serif' >Time of stimulation</text>
<text transform="translate(285.0,219.8) rotate(-90)" font-size="8.3" text-anchor="middle" stroke="#000" stroke-width="0.15" font-family='"Liberation Sans", sans-serif'>c-myc expression</text>
<text transform="translate(295.0,220.1) rotate(-90)" font-size="8.2" text-anchor="middle" stroke="#000" stroke-width="0.15" font-family='"Liberation Sans", sans-serif'>(mean%±SD of GAPDH)</text>
<rect x="334.0" y="178.6" width="4.9" height="4.9" fill="#000"/>
<rect x="334.4" y="189.8" width="4.1000000000000005" height="4.1000000000000005" fill="#b9b9b9" stroke="#888" stroke-width="0.8"/>
<text transform="translate(341.09999999999997,183.95) scale(1,1.13)" font-size="8.3" text-anchor="start" font-weight="normal" fill="#000" stroke="#000" stroke-width="0.18" font-family='"Liberation Sans", sans-serif' >DMSO 0.01%</text>
<text transform="translate(341.09999999999997,194.75) scale(1,1.13)" font-size="8.3" text-anchor="start" font-weight="normal" fill="#000" stroke="#000" stroke-width="0.18" font-family='"Liberation Sans", sans-serif' >CDDO 0.5 <tspan font-style="italic">µ</tspan>M</text>
<rect x="474.3" y="175.8" width="40.2" height="24.4" fill="#fff" stroke="#555" stroke-width="1"/>
<text transform="translate(494.3,193.1) scale(1,1)" font-size="13.5" text-anchor="middle" font-weight="normal" fill="#000" stroke="#000" stroke-width="0.18" font-family='"Liberation Sans", sans-serif' >c-myc</text>
<text transform="translate(83.8,342.4) scale(1,1.05)" font-size="13.1" text-anchor="start" font-weight="normal" fill="#000" stroke="#000" stroke-width="0.18" font-family='"Liberation Sans", sans-serif' >1 µM CDDO</text>
<line x1="63.5" y1="347.6" x2="173.2" y2="347.6" stroke="#8a8a8a" stroke-width="1"/>
<text transform="translate(69.8,362.6) scale(1,1.13)" font-size="10.6" text-anchor="middle" font-weight="normal" fill="#000" stroke="#000" stroke-width="0.18" font-family='"Liberation Sans", sans-serif' >0</text>
<text transform="translate(90.0,362.6) scale(1,1.13)" font-size="10.6" text-anchor="middle" font-weight="normal" fill="#000" stroke="#000" stroke-width="0.18" font-family='"Liberation Sans", sans-serif' >1</text>
<text transform="translate(109.7,362.6) scale(1,1.13)" font-size="10.6" text-anchor="middle" font-weight="normal" fill="#000" stroke="#000" stroke-width="0.18" font-family='"Liberation Sans", sans-serif' >2</text>
<text transform="translate(131.0,362.6) scale(1,1.13)" font-size="10.6" text-anchor="middle" font-weight="normal" fill="#000" stroke="#000" stroke-width="0.18" font-family='"Liberation Sans", sans-serif' >3</text>
<text transform="translate(151.3,362.6) scale(1,1.13)" font-size="10.6" text-anchor="middle" font-weight="normal" fill="#000" stroke="#000" stroke-width="0.18" font-family='"Liberation Sans", sans-serif' >4</text>
<text transform="translate(168.6,362.6) scale(1,1.13)" font-size="10.6" text-anchor="middle" font-weight="normal" fill="#000" stroke="#000" stroke-width="0.18" font-family='"Liberation Sans", sans-serif' >5</text>
<line x1="181" y1="358.6" x2="198" y2="358.6" stroke="#000" stroke-width="1.6"/>
<polygon points="177.3,358.6 183,355.8 183,361.4" fill="#000"/>
<text transform="translate(202,363) scale(1,1.13)" font-size="10" text-anchor="start" font-weight="normal" fill="#000" stroke="#000" stroke-width="0.18" font-family='"Liberation Sans", sans-serif' >days of treatment</text>
<rect x="57" y="367.3" width="124.7" height="26" fill="#e8e8e8"/>
<rect x="57" y="393.5" width="124.7" height="30" fill="#f1f1f1"/>
<rect x="64.7" y="380.5" width="14.4" height="9" fill="url(#smear)" opacity="0.059500000000000004" filter="url(#b1)"/>
<rect x="64.7" y="377.8" width="14.4" height="5" rx="2" fill="#000" opacity="0.07" filter="url(#b1)"/>
<rect x="84.39999999999999" y="380.5" width="14.4" height="9" fill="url(#smear)" opacity="0.0425" filter="url(#b1)"/>
<rect x="84.39999999999999" y="377.8" width="14.4" height="5" rx="2" fill="#000" opacity="0.05" filter="url(#b1)"/>
<rect x="104.1" y="380.5" width="14.4" height="9" fill="url(#smear)" opacity="0.255" filter="url(#b1)"/>
<rect x="104.1" y="377.8" width="14.4" height="5" rx="2" fill="#000" opacity="0.3" filter="url(#b1)"/>
<rect x="123.99999999999999" y="380.5" width="14.4" height="9" fill="url(#smear)" opacity="0.425" filter="url(#b1)"/>
<rect x="123.99999999999999" y="377.8" width="14.4" height="5" rx="2" fill="#000" opacity="0.5" filter="url(#b1)"/>
<rect x="144.20000000000002" y="380.5" width="14.4" height="9" fill="url(#smear)" opacity="0.782" filter="url(#b1)"/>
<rect x="144.20000000000002" y="377.8" width="14.4" height="5" rx="2" fill="#000" opacity="0.92" filter="url(#b1)"/>
<rect x="164.3" y="380.5" width="14.4" height="9" fill="url(#smear)" opacity="0.527" filter="url(#b1)"/>
<rect x="164.3" y="377.8" width="14.4" height="5" rx="2" fill="#000" opacity="0.62" filter="url(#b1)"/>
<rect x="64.7" y="404.5" width="14.4" height="12" fill="url(#smear)" opacity="0.62" filter="url(#b2)"/>
<rect x="64.5" y="401.6" width="14.8" height="6" rx="1.5" fill="#000" opacity="0.62" filter="url(#b2)"/>
<rect x="84.39999999999999" y="404.5" width="14.4" height="12" fill="url(#smear)" opacity="0.92" filter="url(#b2)"/>
<rect x="84.19999999999999" y="401.6" width="14.8" height="6" rx="1.5" fill="#000" opacity="0.92" filter="url(#b2)"/>
<rect x="104.1" y="404.5" width="14.4" height="12" fill="url(#smear)" opacity="0.85" filter="url(#b2)"/>
<rect x="103.89999999999999" y="401.6" width="14.8" height="6" rx="1.5" fill="#000" opacity="0.85" filter="url(#b2)"/>
<rect x="123.99999999999999" y="404.5" width="14.4" height="12" fill="url(#smear)" opacity="0.66" filter="url(#b2)"/>
<rect x="123.79999999999998" y="401.6" width="14.8" height="6" rx="1.5" fill="#000" opacity="0.66" filter="url(#b2)"/>
<rect x="144.20000000000002" y="404.5" width="14.4" height="12" fill="url(#smear)" opacity="0.7" filter="url(#b2)"/>
<rect x="144.0" y="401.6" width="14.8" height="6" rx="1.5" fill="#000" opacity="0.7" filter="url(#b2)"/>
<rect x="164.3" y="404.5" width="14.4" height="12" fill="url(#smear)" opacity="0.75" filter="url(#b2)"/>
<rect x="164.1" y="401.6" width="14.8" height="6" rx="1.5" fill="#000" opacity="0.75" filter="url(#b2)"/>
<rect x="57" y="367.3" width="124.7" height="56" fill="none" stroke="#000" stroke-width="1.4"/>
<line x1="57" y1="393.2" x2="181.7" y2="393.2" stroke="#000" stroke-width="1.8"/>
<text transform="translate(188.3,385.6) scale(1,1.13)" font-size="13" text-anchor="start" font-weight="normal" fill="#000" stroke="#000" stroke-width="0.18" font-family='"Liberation Sans", sans-serif' >G-CSFR</text>
<text transform="translate(189.5,414.3) scale(1,1.13)" font-size="13" text-anchor="start" font-weight="normal" fill="#000" stroke="#000" stroke-width="0.18" font-family='"Liberation Sans", sans-serif' >GAPDH</text>
<text transform="translate(83.6,477.3) rotate(-90)" font-size="10.6" stroke="#000" stroke-width="0.15" font-family='"Liberation Sans", sans-serif'>probe</text>
<text transform="translate(89.5,477.5) scale(1,1.13)" font-size="8.3" text-anchor="start" font-weight="normal" fill="#000" stroke="#000" stroke-width="0.18" font-family='"Liberation Sans", sans-serif' >Untreated</text>
<text transform="translate(144.2,468.8) scale(1,1.13)" font-size="8.4" text-anchor="middle" font-weight="normal" fill="#000" stroke="#000" stroke-width="0.18" font-family='"Liberation Sans", sans-serif' >0.01%</text>
<text transform="translate(144.7,477.5) scale(1,1.13)" font-size="8.7" text-anchor="middle" font-weight="normal" fill="#000" stroke="#000" stroke-width="0.18" font-family='"Liberation Sans", sans-serif' >DMSO</text>
<text transform="translate(179.1,468.8) scale(1,1.13)" font-size="8.4" text-anchor="middle" font-weight="normal" fill="#000" stroke="#000" stroke-width="0.18" font-family='"Liberation Sans", sans-serif' >1 µM</text>
<text transform="translate(179.6,477.5) scale(1,1.13)" font-size="8.7" text-anchor="middle" font-weight="normal" fill="#000" stroke="#000" stroke-width="0.18" font-family='"Liberation Sans", sans-serif' >CDDO</text>
<line x1="89.5" y1="480.1" x2="126.6" y2="480.1" stroke="#777" stroke-width="0.8"/>
<line x1="127.7" y1="480.1" x2="163.5" y2="480.1" stroke="#777" stroke-width="0.8"/>
<line x1="164.8" y1="480.1" x2="199.4" y2="480.1" stroke="#777" stroke-width="0.8"/>
<text transform="translate(95.2,490.5) scale(1,1.13)" font-size="10" text-anchor="middle" font-weight="normal" fill="#000" stroke="#000" stroke-width="0.18" font-family='"Liberation Sans", sans-serif' >-</text>
<text transform="translate(106.4,490.2) scale(1,1.0)" font-size="10.5" text-anchor="middle" font-weight="normal" fill="#000" stroke="#000" stroke-width="0.18" font-family='"Liberation Serif", serif' >α</text>
<text transform="translate(119.8,490.2) scale(1,1.0)" font-size="10.5" text-anchor="middle" font-weight="normal" fill="#000" stroke="#000" stroke-width="0.18" font-family='"Liberation Serif", serif' >β</text>
<text transform="translate(132.3,490.5) scale(1,1.13)" font-size="10" text-anchor="middle" font-weight="normal" fill="#000" stroke="#000" stroke-width="0.18" font-family='"Liberation Sans", sans-serif' >-</text>
<text transform="translate(144.6,490.2) scale(1,1.0)" font-size="10.5" text-anchor="middle" font-weight="normal" fill="#000" stroke="#000" stroke-width="0.18" font-family='"Liberation Serif", serif' >α</text>
<text transform="translate(158.2,490.2) scale(1,1.0)" font-size="10.5" text-anchor="middle" font-weight="normal" fill="#000" stroke="#000" stroke-width="0.18" font-family='"Liberation Serif", serif' >β</text>
<text transform="translate(168.7,490.5) scale(1,1.13)" font-size="10" text-anchor="middle" font-weight="normal" fill="#000" stroke="#000" stroke-width="0.18" font-family='"Liberation Sans", sans-serif' >-</text>
<text transform="translate(180.4,490.2) scale(1,1.0)" font-size="10.5" text-anchor="middle" font-weight="normal" fill="#000" stroke="#000" stroke-width="0.18" font-family='"Liberation Serif", serif' >α</text>
<text transform="translate(194.79999999999998,490.2) scale(1,1.0)" font-size="10.5" text-anchor="middle" font-weight="normal" fill="#000" stroke="#000" stroke-width="0.18" font-family='"Liberation Serif", serif' >β</text>
<text transform="translate(52.3,490) scale(1,1.13)" font-size="10.5" text-anchor="end" font-weight="normal" fill="#000" stroke="#000" stroke-width="0.18" font-family='"Liberation Sans", sans-serif' >Ab</text>
<text transform="translate(52.3,501.5) scale(1,1.13)" font-size="10.5" text-anchor="end" font-weight="normal" fill="#000" stroke="#000" stroke-width="0.18" font-family='"Liberation Sans", sans-serif' >s.s.</text>
<text transform="translate(51.5,511.5) scale(1,1.13)" font-size="11" text-anchor="end" font-weight="normal" fill="#000" stroke="#000" stroke-width="0.18" font-family='"Liberation Sans", sans-serif' >CEBP</text>
<text transform="translate(45.3,557.5) scale(1,1.13)" font-size="10.5" text-anchor="end" font-weight="normal" fill="#000" stroke="#000" stroke-width="0.18" font-family='"Liberation Sans", sans-serif' >free</text>
<text transform="translate(50.3,568.5) scale(1,1.13)" font-size="10.8" text-anchor="end" font-weight="normal" fill="#000" stroke="#000" stroke-width="0.18" font-family='"Liberation Sans", sans-serif' >probe</text>
<line x1="53.9" y1="486.4" x2="68.2" y2="486.4" stroke="#000" stroke-width="1"/>
<polygon points="71.2,486.4 67.2,484.4 67.2,488.4" fill="#000"/>
<line x1="52.5" y1="500.6" x2="68.2" y2="500.6" stroke="#000" stroke-width="1"/>
<polygon points="71.2,500.6 67.2,498.6 67.2,502.6" fill="#000"/>
<line x1="52.5" y1="507.5" x2="68.2" y2="507.5" stroke="#000" stroke-width="1"/>
<polygon points="71.2,507.5 67.2,505.5 67.2,509.5" fill="#000"/>
<line x1="46.3" y1="556.3" x2="67.5" y2="556.3" stroke="#000" stroke-width="1"/>
<polygon points="70.5,556.3 66.5,554.3 66.5,558.3" fill="#000"/>
<rect x="73" y="494.7" width="126" height="68.8" fill="url(#emsabg)"/>
<rect x="73" y="545" width="126" height="8" fill="url(#freeg)"/>
<rect x="73" y="552.4" width="126" height="11.1" fill="#050505"/>
<ellipse cx="80" cy="549" rx="4.5" ry="2" fill="#000" opacity="0.25" filter="url(#b1)"/>
<ellipse cx="92" cy="549" rx="4.5" ry="2" fill="#000" opacity="0.25" filter="url(#b1)"/>
<ellipse cx="104" cy="549" rx="4.5" ry="2" fill="#000" opacity="0.25" filter="url(#b1)"/>
<ellipse cx="116" cy="549" rx="4.5" ry="2" fill="#000" opacity="0.25" filter="url(#b1)"/>
<ellipse cx="128" cy="549" rx="4.5" ry="2" fill="#000" opacity="0.25" filter="url(#b1)"/>
<ellipse cx="140" cy="549" rx="4.5" ry="2" fill="#000" opacity="0.25" filter="url(#b1)"/>
<ellipse cx="152" cy="549" rx="4.5" ry="2" fill="#000" opacity="0.25" filter="url(#b1)"/>
<ellipse cx="164" cy="549" rx="4.5" ry="2" fill="#000" opacity="0.25" filter="url(#b1)"/>
<ellipse cx="176" cy="549" rx="4.5" ry="2" fill="#000" opacity="0.25" filter="url(#b1)"/>
<ellipse cx="188" cy="549" rx="4.5" ry="2" fill="#000" opacity="0.25" filter="url(#b1)"/>
<rect x="90.2" y="504.6" width="10" height="5.2" rx="2" fill="#000" opacity="0.425" filter="url(#b1)"/>
<rect x="90.2" y="508" width="10" height="6" fill="#000" opacity="0.075" filter="url(#b1)"/>
<rect x="101.4" y="504.6" width="10" height="5.2" rx="2" fill="#000" opacity="0.1105" filter="url(#b1)"/>
<rect x="101.4" y="508" width="10" height="6" fill="#000" opacity="0.0195" filter="url(#b1)"/>
<rect x="113.6" y="504.6" width="10" height="5.2" rx="2" fill="#000" opacity="0.1105" filter="url(#b1)"/>
<rect x="113.6" y="508" width="10" height="6" fill="#000" opacity="0.0195" filter="url(#b1)"/>
<rect x="127.30000000000001" y="504.6" width="10" height="5.2" rx="2" fill="#000" opacity="0.3825" filter="url(#b1)"/>
<rect x="127.30000000000001" y="508" width="10" height="6" fill="#000" opacity="0.0675" filter="url(#b1)"/>
<rect x="139.6" y="504.6" width="10" height="5.2" rx="2" fill="#000" opacity="0.085" filter="url(#b1)"/>
<rect x="139.6" y="508" width="10" height="6" fill="#000" opacity="0.015" filter="url(#b1)"/>
<rect x="152.0" y="504.6" width="10" height="5.2" rx="2" fill="#000" opacity="0.17" filter="url(#b1)"/>
<rect x="152.0" y="508" width="10" height="6" fill="#000" opacity="0.03" filter="url(#b1)"/>
<rect x="162.15" y="504.4" width="12.5" height="4.8" rx="2" fill="#000" opacity="0.97" filter="url(#b2)"/>
<rect x="163.4" y="508" width="10" height="6" fill="#000" opacity="0.1455" filter="url(#b1)"/>
<rect x="173.95" y="504.4" width="12.5" height="4.8" rx="2" fill="#000" opacity="0.7" filter="url(#b2)"/>
<rect x="175.2" y="508" width="10" height="6" fill="#000" opacity="0.105" filter="url(#b1)"/>
<rect x="186.75" y="504.4" width="12.5" height="4.8" rx="2" fill="#000" opacity="0.88" filter="url(#b2)"/>
<rect x="188.0" y="508" width="10" height="6" fill="#000" opacity="0.132" filter="url(#b1)"/>
<rect x="175.5" y="496" width="9.5" height="9" fill="#000" opacity="0.42" filter="url(#b2)"/>
<rect x="163" y="510" width="36" height="9" fill="#000" opacity="0.06" filter="url(#b1)"/>
<rect x="73" y="494.7" width="126" height="68.8" fill="none" stroke="#000" stroke-width="1.4"/>
<line x1="73" y1="495" x2="199" y2="495" stroke="#000" stroke-width="1.2"/>
<text transform="translate(135,575.8) scale(1,1.0)" font-size="12.2" text-anchor="middle" font-weight="normal" fill="#000" stroke="#000" stroke-width="0.18" font-family='"Liberation Sans", sans-serif' >EMSA</text>
<rect x="207.8" y="494.8" width="84.8" height="46" fill="#cdcdcd"/>
<rect x="207.8" y="540.6" width="84.8" height="23" fill="#c7c7c7"/>
<path d="M208,505.4 C225,504.6 245,506.4 292,505.8" stroke="#000" stroke-width="3.4" fill="none" opacity="0.45" filter="url(#b2)"/>
<path d="M208,511.0 C225,510.6 245,512.2 292,511.6" stroke="#000" stroke-width="2.8" fill="none" opacity="0.4" filter="url(#b2)"/>
<rect x="210" y="503.6" width="23" height="3.6" rx="1.8" fill="#000" opacity="0.35" filter="url(#b2)"/>
<rect x="210" y="509.5" width="23" height="3" rx="1.5" fill="#000" opacity="0.35" filter="url(#b2)"/>
<rect x="236" y="503.6" width="23" height="3.6" rx="1.8" fill="#000" opacity="0.3" filter="url(#b2)"/>
<rect x="236" y="509.5" width="23" height="3" rx="1.5" fill="#000" opacity="0.3" filter="url(#b2)"/>
<rect x="263.5" y="503" width="17.5" height="6" rx="3" fill="#000" filter="url(#b2)"/>
<rect x="264" y="509.6" width="16" height="3.2" rx="1.5" fill="#000" opacity="0.45" filter="url(#b2)"/>
<path d="M208,530.4 C225,530.2 245,532 292,531.6" stroke="#050505" stroke-width="3.8" fill="none" filter="url(#b4)"/>
<path d="M208,551.5 C218,552.6 226,551.6 235,551.4 C244,551.2 250,550.4 258,551.2 C268,552 276,550.6 292,550.6" stroke="#050505" stroke-width="3.5" fill="none" filter="url(#b4)"/>
<rect x="207.8" y="494.8" width="84.8" height="68.8" fill="none" stroke="#000" stroke-width="1.3"/>
<line x1="207.8" y1="540.4" x2="292.6" y2="540.4" stroke="#000" stroke-width="1.4"/>
<text transform="translate(252.5,575.6) scale(1,0.98)" font-size="13" text-anchor="middle" font-weight="normal" fill="#000" stroke="#000" stroke-width="0.18" font-family='"Liberation Sans", sans-serif' >Western Blot</text>
<text transform="translate(218.8,493.5) rotate(-31)" font-size="9" stroke="#000" stroke-width="0.15" font-family='"Liberation Sans", sans-serif'>Untreated</text>
<text transform="translate(246.5,490.3) rotate(-31)" font-size="9" stroke="#000" stroke-width="0.15" font-family='"Liberation Sans", sans-serif'>0.01% DMSO</text>
<text transform="translate(279,491.3) rotate(-31)" font-size="9" stroke="#000" stroke-width="0.15" font-family='"Liberation Sans", sans-serif'>1 <tspan font-style="italic">µ</tspan>M CDDO</text>
<line x1="300" y1="506.5" x2="312.5" y2="506.5" stroke="#000" stroke-width="1"/>
<polygon points="297,506.5 301,504.5 301,508.5" fill="#000"/>
<line x1="300" y1="531.5" x2="312.5" y2="531.5" stroke="#000" stroke-width="1"/>
<polygon points="297,531.5 301,529.5 301,533.5" fill="#000"/>
<text transform="translate(313.8,511) scale(1,1.02)" font-size="11.5" text-anchor="start" font-weight="normal" fill="#000" stroke="#000" stroke-width="0.18" font-family='"Liberation Sans", sans-serif' >p42</text>
<text transform="translate(313.8,535.5) scale(1,1.02)" font-size="11.5" text-anchor="start" font-weight="normal" fill="#000" stroke="#000" stroke-width="0.18" font-family='"Liberation Sans", sans-serif' >p30</text>
<text transform="translate(339.5,523) scale(1,1.06)" font-size="11.3" text-anchor="start" font-weight="normal" fill="#000" stroke="#000" stroke-width="0.18" font-family='"Liberation Sans", sans-serif' >CEBPA</text>
<text transform="translate(296.5,552.3) scale(1,1.13)" font-size="10.8" text-anchor="start" font-weight="normal" fill="#000" stroke="#000" stroke-width="0.18" font-family='"Liberation Sans", sans-serif' >β-tubulin</text>
</svg></body></html>
